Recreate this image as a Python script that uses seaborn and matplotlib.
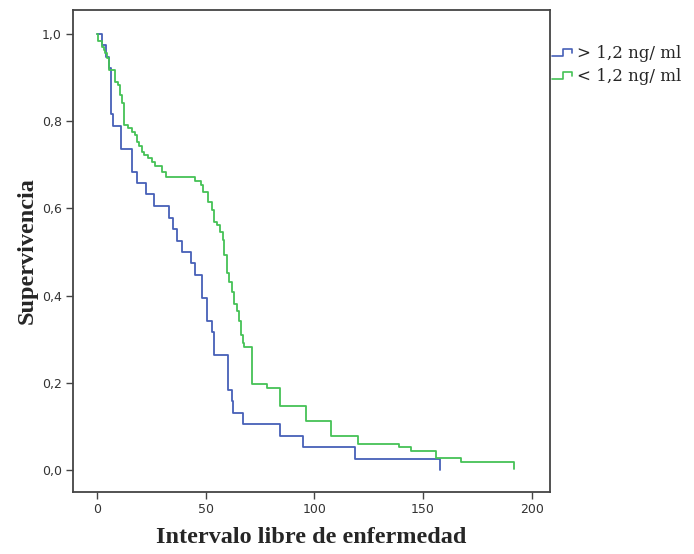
import numpy as np
import pandas as pd
import seaborn as sns
import matplotlib
matplotlib.use("Agg")
import matplotlib.pyplot as plt
from matplotlib.lines import Line2D
from matplotlib.legend_handler import HandlerBase

# Kaplan-Meier step estimates: event times and survival after each event
tiempo_alto = [0.0, 2.4, 4.3, 5.5, 6.3, 7.5, 11.1, 16.4, 18.3, 22.4, 26.3, 33.2,
               35.0, 36.8, 39.2, 43.3, 45.2, 48.2, 50.8, 53.1, 54.1, 60.2, 62.1,
               62.8, 67.0, 84.0, 94.8, 118.9, 157.6]
superv_alto = [1.000, 0.974, 0.947, 0.921, 0.816, 0.789, 0.737, 0.684, 0.658,
               0.632, 0.605, 0.579, 0.553, 0.526, 0.500, 0.474, 0.447, 0.395,
               0.342, 0.316, 0.263, 0.184, 0.158, 0.132, 0.105, 0.079, 0.053,
               0.026, 0.000]

tiempo_bajo = [0.0, 0.4, 2.2, 3.1, 3.8, 4.7, 5.6, 8.4, 9.7, 10.5, 11.4, 12.4,
               14.2, 16.1, 17.5, 18.6, 19.5, 20.6, 21.8, 23.6, 25.6, 26.9, 30.1,
               31.8, 45.0, 47.9, 49.0, 51.2, 53.1, 54.0, 55.3, 56.6, 57.8, 58.6,
               59.8, 61.0, 62.1, 63.3, 64.4, 65.3, 66.2, 67.1, 67.9, 71.3, 78.2,
               84.0, 96.0, 107.8, 120.0, 138.9, 144.5, 155.8, 167.6, 191.6]
superv_bajo = [1.000, 0.985, 0.970, 0.963, 0.956, 0.946, 0.917, 0.891, 0.883,
               0.860, 0.841, 0.791, 0.784, 0.776, 0.768, 0.753, 0.742, 0.730,
               0.722, 0.715, 0.706, 0.697, 0.684, 0.672, 0.663, 0.654, 0.638,
               0.614, 0.596, 0.570, 0.563, 0.547, 0.528, 0.493, 0.451, 0.432,
               0.409, 0.382, 0.365, 0.342, 0.310, 0.291, 0.283, 0.197, 0.189,
               0.147, 0.112, 0.079, 0.061, 0.053, 0.045, 0.027, 0.019, 0.002]

grupos = ["> 1,2 ng/ ml", "< 1,2 ng/ ml"]
colores = ["#4760b8", "#45c256"]

df = pd.concat([
    pd.DataFrame({"t": tiempo_alto, "s": superv_alto, "grupo": grupos[0]}),
    pd.DataFrame({"t": tiempo_bajo, "s": superv_bajo, "grupo": grupos[1]}),
], ignore_index=True)

sns.set_style("ticks")
plt.rcParams["font.family"] = ["DejaVu Sans"]

fig = plt.figure(figsize=(6.94, 5.54), dpi=100)
ax = fig.add_axes([0.105, 0.112, 0.688, 0.870])

sns.lineplot(data=df, x="t", y="s", hue="grupo", palette=dict(zip(grupos, colores)),
             estimator=None, sort=False, drawstyle="steps-post", linewidth=1.3,
             legend=False, ax=ax)

ax.set_xlim(-11, 208.5)
ax.set_ylim(-0.05, 1.055)
ax.set_xticks([0, 50, 100, 150, 200])
ax.set_yticks([0.0, 0.2, 0.4, 0.6, 0.8, 1.0])
ax.set_yticklabels([f"{v:.1f}".replace(".", ",") for v in ax.get_yticks()])
ax.tick_params(axis="both", length=5, width=1, color="#444444", labelsize=9,
               labelcolor="#333333", pad=3)
for sp in ax.spines.values():
    sp.set_color("#444444")
    sp.set_linewidth(1.3)

ax.set_xlabel("Intervalo libre de enfermedad", family="Liberation Serif",
              fontweight="bold", fontsize=17.5, labelpad=8)
ax.set_ylabel("Supervivencia", family="Liberation Serif", fontweight="bold",
              fontsize=17.5, labelpad=3)


class StepHandler(HandlerBase):
    """Legend key drawn as a small rising step."""
    def create_artists(self, legend, orig_handle, xdescent, ydescent,
                       width, height, fontsize, trans):
        x0, x1 = -xdescent, -xdescent + width
        yc = -ydescent + 0.5 * height
        y0, y1 = yc - 0.22 * fontsize, yc + 0.22 * fontsize
        xm = x0 + 0.55 * width
        ln = Line2D([x0, xm, xm, x1, x1], [y0, y0, y1, y1, yc - 0.05 * fontsize],
                    color=orig_handle.get_color(), linewidth=1.2,
                    transform=trans)
        return [ln]


handles = [Line2D([], [], color=c) for c in colores]
fig.legend(handles, grupos, loc="upper left", bbox_to_anchor=(0.796, 0.918),
           frameon=False, handler_map={Line2D: StepHandler()},
           prop={"family": "DejaVu Serif", "size": 12},
           handlelength=1.2, handletextpad=0.25, labelspacing=0.35,
           borderaxespad=0, borderpad=0)

fig.savefig("out.png", dpi=100)
